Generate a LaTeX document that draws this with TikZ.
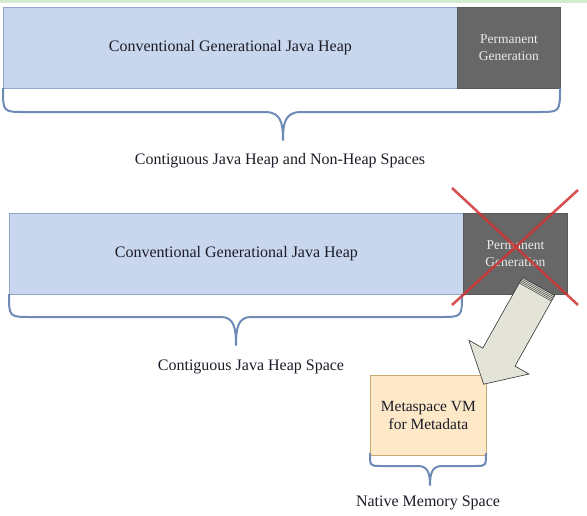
\documentclass[tikz,border=0pt]{standalone}
\usepackage{fontspec}
\setmainfont{Liberation Serif}
\definecolor{heapfill}{HTML}{C9D7EE}
\definecolor{heapline}{HTML}{90A6CC}
\definecolor{permfill}{HTML}{676767}
\definecolor{permline}{HTML}{5A5A5A}
\definecolor{bracecol}{HTML}{6E8BB6}
\definecolor{xred}{HTML}{D03535}
\definecolor{arrowfill}{HTML}{E3E3D7}
\definecolor{metafill}{HTML}{FDE8C8}
\definecolor{metaline}{HTML}{C9A873}
\definecolor{topgreen}{HTML}{D5EBCF}
\definecolor{txt}{HTML}{1C1C28}
\newcommand\jbrace[8]{% x1 x2 top h tipx tipy radius spread
  \draw[brace] (#1,#3) .. controls (#1,#4) .. (#1+#7,#4) -- (#5-#8,#4)
    .. controls (#5-2,#4) and (#5,#4+0.4*#6-0.4*#4) .. (#5,#6)
    .. controls (#5,#4+0.4*#6-0.4*#4) and (#5+2,#4) .. (#5+#8,#4)
    -- (#2-#7,#4) .. controls (#2,#4) .. (#2,#3);}
\begin{document}
\begin{tikzpicture}[x=1pt,y=-1pt,
  heap/.style={draw=heapline, fill=heapfill, line width=0.8pt, inner sep=0pt,
    anchor=north west, text=txt, font=\fontsize{16}{18}\selectfont},
  perm/.style={draw=permline, fill=permfill, line width=0.8pt, inner sep=0pt,
    anchor=north west, text=white!92!black, align=center,
    font=\fontsize{13.5}{17}\selectfont},
  meta/.style={draw=metaline, fill=metafill, line width=0.8pt, inner sep=0pt,
    anchor=north west, text=txt, align=center, font=\fontsize{15.5}{18}\selectfont},
  brace/.style={draw=bracecol, line width=2pt, line join=round},
  lbl/.style={text=txt, font=\fontsize{16}{18}\selectfont, inner sep=0pt},
  cross/.style={draw=xred, line width=2.6pt, opacity=0.85},
  blockarrow/.style={draw=black!80, fill=arrowfill, line width=0.6pt, line join=miter}]
\useasboundingbox (0,0) rectangle (587,515);
\fill[topgreen] (0,0) rectangle (587,2.5);
% top row
\node[heap, minimum width=454pt, minimum height=81pt] (heapA) at (3,7)
  {Conventional Generational Java Heap};
\node[perm, minimum width=103pt, minimum height=81pt] (permA) at (457,7)
  {Permanent\\Generation};
\jbrace{3}{560}{88}{112}{283}{140}{22}{18}
\node[lbl] (lblA) at (280,161) {Contiguous Java Heap and Non-Heap Spaces};
% second row
\node[heap, minimum width=454pt, minimum height=81pt] (heapB) at (9,213)
  {Conventional Generational Java Heap};
\node[perm, minimum width=104pt, minimum height=81pt] (permB) at (463,213)
  {Permanent\\Generation};
\jbrace{9}{462}{294}{317}{236}{345}{22}{15}
\node[lbl] (lblB) at (251,367) {Contiguous Java Heap Space};
% red cross
\draw[cross] (452,188) -- (578,305);
\draw[cross] (578,190) -- (452,305);
% metaspace box
\node[meta, minimum width=116pt, minimum height=80pt] (meta) at (370,375)
  {Metaspace VM\\for Metadata};
% block arrow
\draw[blockarrow] (522.4,277.5) -- (554.6,295.5) -- (515.0,366.1) -- (529.0,374.0)
  -- (483.7,384.2) -- (468.8,340.2) -- (482.8,348.1) -- cycle;
\foreach \k in {1.6,3.2,4.8,6.4}
  \draw[black!75, line width=0.5pt] (522.4-0.489*\k,277.5+0.872*\k) -- (554.6-0.489*\k,295.5+0.872*\k);
\jbrace{370}{486}{453}{466}{430}{485}{11}{12}
\node[lbl] (lblC) at (428,503) {Native Memory Space};
\end{tikzpicture}
\end{document}
